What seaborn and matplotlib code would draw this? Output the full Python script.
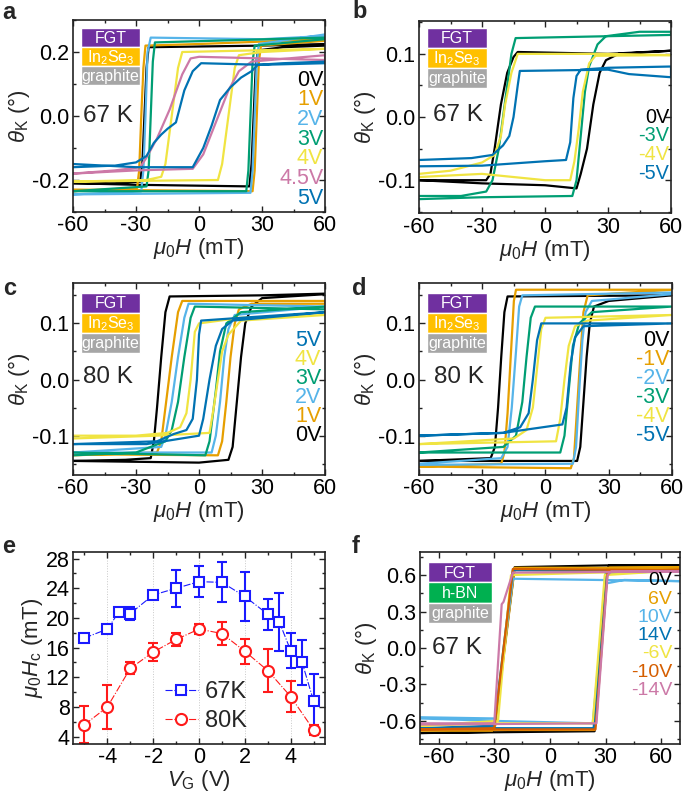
import matplotlib
matplotlib.use("Agg")
import matplotlib.pyplot as plt
import seaborn as sns
from matplotlib.patches import Rectangle
from matplotlib.ticker import MultipleLocator

# colours (Okabe-Ito style, as in the paper)
BLACK = "#000000"
ORANGE = "#E69F00"
SKY = "#56B4E9"
GREEN = "#009E73"
YELLOW = "#F0E442"
BLUE = "#0072B2"
VERMIL = "#D55E00"
PINK = "#CC79A7"

# ---- panel a: 67 K, In2Se3, positive gate -------------------------------
# each loop: lower branch (-60 -> 60) followed by upper branch (60 -> -60)
a_labels = ["0V", "1V", "2V", "3V", "4V", "4.5V", "5V"]
a_colors = [BLACK, ORANGE, SKY, GREEN, YELLOW, PINK, BLUE]
a_loops = [
    [(-60, -0.21), (-30, -0.215), (24, -0.22), (25, -0.15), (26, 0.0), (27, 0.15), (28, 0.205), (40, 0.215), (60, 0.22),
     (60, 0.225), (30, 0.22), (-24, 0.215), (-25, 0.15), (-26, 0.0), (-27, -0.15), (-28, -0.205), (-40, -0.21), (-60, -0.21)],
    [(-60, -0.23), (25.5, -0.235), (26.5, -0.17), (27.5, 0.0), (28.5, 0.17), (29.5, 0.22), (60, 0.235),
     (60, 0.24), (0, 0.225), (-25.5, 0.22), (-26.5, 0.15), (-27.5, 0.0), (-28.5, -0.17), (-29.5, -0.225), (-60, -0.235)],
    [(-60, -0.245), (24.5, -0.24), (25.5, -0.17), (26.5, 0.0), (27.5, 0.17), (28.5, 0.225), (60, 0.255),
     (60, 0.25), (30, 0.24), (-23, 0.245), (-24.5, 0.2), (-25.5, 0.0), (-26.5, -0.17), (-27.5, -0.235), (-60, -0.245)],
    [(-60, -0.235), (22.5, -0.235), (23.5, -0.17), (24.5, 0.0), (25.5, 0.17), (26.5, 0.22), (60, 0.24),
     (60, 0.245), (-21, 0.23), (-22, 0.17), (-23, 0.0), (-24, -0.17), (-25, -0.22), (-60, -0.235)],
    [(-60, -0.205), (9, -0.2), (11, -0.15), (14, 0.0), (17, 0.15), (19, 0.19), (30, 0.2), (60, 0.21),
     (60, 0.21), (-8, 0.2), (-10, 0.15), (-13, 0.0), (-16, -0.15), (-18, -0.19), (-25, -0.2), (-60, -0.205)],
    [(-60, -0.18), (-30, -0.17), (-3, -0.165), (2, -0.12), (8, -0.02), (14, 0.08), (19, 0.14), (25, 0.17), (60, 0.19),
     (60, 0.175), (30, 0.18), (0, 0.185), (-4, 0.18), (-8, 0.13), (-14, 0.02), (-20, -0.07), (-25, -0.13), (-28, -0.16),
     (-40, -0.17), (-60, -0.18)],
    [(-60, -0.15), (-30, -0.16), (-3, -0.16), (2, -0.1), (6, -0.03), (10, 0.05), (15, 0.09), (20, 0.12), (25, 0.14),
     (28, 0.16), (40, 0.165), (60, 0.17),
     (60, 0.165), (30, 0.16), (1, 0.165), (-3, 0.14), (-7, 0.08), (-11, -0.02), (-15, -0.04), (-18, -0.058),
     (-21.5, -0.084), (-25, -0.125), (-30, -0.145), (-40, -0.155), (-60, -0.16)],
]

# ---- panel b: 67 K, In2Se3, negative gate -------------------------------
b_labels = ["0V", "-3V", "-4V", "-5V"]
b_colors = [BLACK, GREEN, YELLOW, BLUE]
b_loops = [
    [(-60, -0.1), (-30, -0.105), (0, -0.108), (15, -0.113), (17, -0.09), (20, -0.05), (23, 0.02), (26, 0.07),
     (29, 0.09), (35, 0.1), (60, 0.105),
     (60, 0.105), (30, 0.1), (-13, 0.103), (-15, 0.095), (-18, 0.07), (-21, 0.02), (-24, -0.05), (-26, -0.09),
     (-28, -0.1), (-60, -0.1)],
    [(-60, -0.13), (-30, -0.127), (13, -0.125), (15, -0.1), (17, -0.03), (19, 0.04), (21, 0.08), (25, 0.115),
     (29, 0.128), (45, 0.135), (60, 0.135),
     (60, 0.13), (30, 0.128), (-14, 0.125), (-16, 0.1), (-18, 0.05), (-20, 0.0), (-22, -0.05), (-25, -0.1),
     (-28, -0.118), (-40, -0.125), (-60, -0.125)],
    [(-60, -0.095), (-30, -0.09), (0, -0.1), (12, -0.1), (14, -0.07), (16, -0.02), (18, 0.04), (21, 0.085),
     (24, 0.097), (60, 0.098),
     (60, 0.098), (30, 0.1), (-13, 0.1), (-16, 0.07), (-19, 0.02), (-21, -0.03), (-24, -0.06), (-30, -0.072),
     (-45, -0.085), (-60, -0.09)],
    [(-60, -0.078), (-30, -0.077), (0, -0.07), (10, -0.068), (12, -0.04), (13.5, 0.03), (15, 0.065), (17, 0.075),
     (30, 0.078), (60, 0.08),
     (60, 0.063), (40, 0.068), (30, 0.075), (-12, 0.073), (-13, 0.05), (-15, 0.0), (-17, -0.03), (-20, -0.045),
     (-25, -0.06), (-35, -0.065), (-60, -0.068)],
]

# ---- panel c: 80 K, positive gate ---------------------------------------
c_labels = ["5V", "4V", "3V", "2V", "1V", "0V"]
c_label_colors = [BLUE, YELLOW, GREEN, SKY, ORANGE, BLACK]
c_colors = [BLACK, ORANGE, SKY, GREEN, YELLOW, BLUE]
c_loops = [
    [(-60, -0.145), (0, -0.148), (14, -0.143), (16, -0.12), (18, -0.04), (20, 0.04), (22, 0.1), (25, 0.13),
     (30, 0.145), (60, 0.152),
     (60, 0.153), (30, 0.15), (-14, 0.148), (-16, 0.12), (-18, 0.04), (-20, -0.05), (-21.5, -0.11), (-23, -0.14),
     (-35, -0.143), (-60, -0.145)],
    [(-60, -0.133), (9, -0.135), (11, -0.11), (13, -0.04), (15, 0.04), (17, 0.1), (19, 0.125), (25, 0.135), (60, 0.135),
     (60, 0.14), (-8, 0.14), (-10, 0.12), (-13, 0.04), (-16, -0.05), (-18, -0.11), (-20, -0.13), (-60, -0.135)],
    [(-60, -0.13), (6, -0.13), (8, -0.1), (10, -0.04), (12, 0.04), (14, 0.09), (17, 0.115), (60, 0.13),
     (60, 0.13), (-5, 0.135), (-7, 0.11), (-10, 0.04), (-13, -0.04), (-16, -0.1), (-18, -0.12), (-60, -0.13)],
    [(-60, -0.13), (3, -0.135), (5, -0.11), (8, -0.02), (10, 0.05), (13, 0.1), (20, 0.12), (60, 0.13),
     (60, 0.125), (-2, 0.13), (-4, 0.11), (-7, 0.04), (-10, -0.04), (-13, -0.09), (-16, -0.11), (-30, -0.13),
     (-60, -0.135)],
    [(-60, -0.105), (-20, -0.1), (5, -0.095), (7, -0.05), (9, 0.0), (11, 0.05), (14, 0.08), (20, 0.105), (60, 0.115),
     (60, 0.115), (20, 0.11), (0, 0.1), (-2, 0.085), (-4, 0.0), (-6, -0.06), (-9, -0.085), (-15, -0.095),
     (-30, -0.1), (-60, -0.1)],
    [(-60, -0.115), (-25, -0.115), (0, -0.1), (2, -0.07), (5, 0.0), (8, 0.06), (11, 0.09), (16, 0.105), (60, 0.12),
     (60, 0.12), (20, 0.11), (1, 0.105), (0, 0.08), (-1, 0.0), (-3, -0.07), (-6, -0.09), (-12, -0.097),
     (-20, -0.11), (-60, -0.115)],
]

# ---- panel d: 80 K, negative gate ---------------------------------------
d_labels = ["0V", "-1V", "-2V", "-3V", "-4V", "-5V"]
d_colors = [BLACK, ORANGE, SKY, GREEN, YELLOW, BLUE]
d_loops = [
    [(-60, -0.145), (15, -0.145), (16.5, -0.12), (18, -0.04), (19.5, 0.04), (21, 0.1), (23, 0.13), (30, 0.14),
     (60, 0.15),
     (60, 0.15), (-18, 0.148), (-19.5, 0.12), (-21, 0.04), (-22.5, -0.05), (-24, -0.12), (-26, -0.14),
     (-60, -0.145)],
    [(-60, -0.155), (12, -0.158), (13.5, -0.14), (15, -0.05), (16.5, 0.04), (18, 0.12), (20, 0.15), (60, 0.16),
     (60, 0.16), (-14, 0.16), (-15, 0.14), (-16.5, 0.04), (-18, -0.06), (-19.5, -0.13), (-21, -0.15), (-60, -0.155)],
    [(-60, -0.152), (13, -0.15), (14.5, -0.12), (16, -0.02), (17.5, 0.07), (19, 0.12), (22, 0.14), (60, 0.152),
     (60, 0.155), (-11, 0.15), (-12.5, 0.13), (-14, 0.05), (-16, -0.05), (-18, -0.12), (-21, -0.14), (-60, -0.15)],
    [(-60, -0.13), (7, -0.13), (9, -0.1), (11, -0.02), (13, 0.06), (16, 0.1), (22, 0.12), (60, 0.13),
     (60, 0.13), (-5, 0.13), (-7, 0.11), (-9, 0.04), (-11, -0.04), (-14, -0.1), (-20, -0.12), (-60, -0.13)],
    [(-60, -0.115), (5, -0.11), (7, -0.07), (9, 0.0), (11, 0.06), (14, 0.095), (20, 0.105), (60, 0.115),
     (60, 0.115), (0, 0.11), (-2, 0.09), (-4, 0.02), (-6, -0.05), (-9, -0.09), (-15, -0.105), (-60, -0.115)],
    [(-60, -0.1), (-20, -0.095), (8, -0.08), (10, -0.05), (12, 0.03), (14, 0.075), (18, 0.095), (60, 0.1),
     (60, 0.1), (20, 0.1), (-2, 0.1), (-4, 0.07), (-6, 0.0), (-8, -0.06), (-12, -0.085), (-20, -0.095),
     (-60, -0.1)],
]

# ---- panel e: coercive field vs gate voltage ----------------------------
vg_67 = [-5, -4, -3.5, -3, -2, -1, 0, 1, 2, 3, 3.5, 4, 4.5, 5]
hc_67 = [17.3, 18.5, 20.8, 20.6, 23.1, 24.0, 24.9, 24.8, 22.9, 20.5, 19.5, 15.6, 14.0, 8.8]
err_67 = [0.4, 0.5, 0.4, 0.9, 0.6, 2.5, 2.1, 2.7, 3.3, 2.1, 3.9, 2.4, 3.0, 3.6]
vg_80 = [-5, -4, -3, -2, -1, 0, 1, 2, 3, 4, 5]
hc_80 = [5.6, 8.0, 13.2, 15.4, 17.1, 18.5, 17.9, 15.5, 12.9, 9.4, 4.9]
err_80 = [2.5, 3.0, 0.8, 1.2, 0.9, 0.7, 1.5, 1.7, 2.85, 2.1, 0.7]

# ---- panel f: 67 K, h-BN reference device -------------------------------
f_labels = ["0V", "6V", "10V", "14V", "-6V", "-10V", "-14V"]
f_colors = [BLACK, ORANGE, SKY, BLUE, YELLOW, VERMIL, PINK]
f_loops = [
    [(-70, -0.7), (24, -0.685), (31, 0.65), (32, 0.68), (70, 0.68),
     (70, 0.68), (32, 0.68), (-19, 0.665), (-30, -0.66), (-31, -0.69), (-70, -0.7)],
    [(-70, -0.675), (24, -0.675), (30.5, 0.64), (32, 0.66), (70, 0.665),
     (70, 0.66), (-19, 0.66), (-29.5, -0.64), (-31, -0.68), (-70, -0.68)],
    [(-70, -0.58), (-30, -0.6), (23, -0.62), (30, 0.53), (40, 0.56), (70, 0.55),
     (70, 0.55), (-20, 0.57), (-29.5, -0.58), (-70, -0.57)],
    [(-70, -0.66), (23.5, -0.66), (30, 0.62), (70, 0.63),
     (70, 0.63), (-20, 0.64), (-30, -0.64), (-70, -0.66)],
    [(-70, -0.64), (-28, -0.62), (23, -0.62), (29.5, 0.6), (70, 0.64),
     (70, 0.64), (-21, 0.6), (-28, -0.6), (-70, -0.64)],
    [(-70, -0.67), (24.5, -0.67), (31, 0.63), (70, 0.645),
     (70, 0.64), (-20, 0.65), (-30, -0.66), (-70, -0.67)],
    [(-70, -0.63), (25, -0.62), (31, 0.6), (33, 0.63), (70, 0.63),
     (70, 0.63), (-20, 0.62), (-25, 0.38), (-26, 0.36), (-30, -0.62), (-70, -0.62)],
]

stack_in2se3 = [("FGT", "#7030A0"), ("In$_2$Se$_3$", "#FFC000"), ("graphite", "#A6A6A6")]
stack_hbn = [("FGT", "#7030A0"), ("h-BN", "#00B050"), ("graphite", "#A6A6A6")]

# ---- style ---------------------------------------------------------------
sns.set_theme(style="ticks")
plt.rcParams["font.family"] = ["Liberation Sans", "DejaVu Sans"]
plt.rcParams.update({
    "mathtext.fontset": "custom",
    "mathtext.rm": "Liberation Sans",
    "mathtext.it": "Liberation Sans:italic",
    "axes.unicode_minus": False,
    "xtick.direction": "in",
    "ytick.direction": "in",
    "xtick.top": True,
    "ytick.right": True,
    "xtick.major.size": 4,
    "ytick.major.size": 4,
    "xtick.minor.size": 2.5,
    "ytick.minor.size": 2.5,
    "xtick.major.width": 1.0,
    "ytick.major.width": 1.0,
    "xtick.minor.width": 1.0,
    "ytick.minor.width": 1.0,
    "xtick.major.pad": 2.5,
    "ytick.major.pad": 2.5,
    "axes.linewidth": 1.2,
    "axes.edgecolor": "#222222",
    "xtick.color": "#222222",
    "ytick.color": "#222222",
    "xtick.labelcolor": "black",
    "ytick.labelcolor": "black",
    "font.size": 15,
})

TICK_FS = 15.5
LABEL_FS = 16
VLABEL_FS = 15.5
TEMP_FS = 17.5
LOOP_LW = 1.6

fig = plt.figure(figsize=(6.85, 7.94), dpi=100)
ax_a = fig.add_axes([0.1066, 0.733, 0.3679, 0.2418])
ax_b = fig.add_axes([0.6117, 0.7317, 0.3679, 0.2418])
ax_c = fig.add_axes([0.1066, 0.4018, 0.3679, 0.2418])
ax_d = fig.add_axes([0.6117, 0.4018, 0.3693, 0.2418])
ax_e = fig.add_axes([0.1066, 0.063, 0.3679, 0.2418])
ax_f = fig.add_axes([0.6131, 0.063, 0.3796, 0.2418])


def draw_loops(ax, loops, colors):
    for pts, c in zip(loops, colors):
        h = [p[0] for p in pts]
        t = [p[1] for p in pts]
        sns.lineplot(x=h, y=t, sort=False, estimator=None, color=c, lw=LOOP_LW, ax=ax)


def draw_stack(ax, layers, x0, y_top, w, h):
    for i, (name, col) in enumerate(layers):
        y0 = y_top - (i + 1) * h
        ax.add_patch(Rectangle((x0, y0), w, h, transform=ax.transAxes, facecolor=col,
                               edgecolor="white", lw=1.0, clip_on=False, zorder=5))
        ax.text(x0 + w / 2, y0 + h / 2 - 0.005, name, transform=ax.transAxes, color="white",
                ha="center", va="center", fontsize=11.5, zorder=6)


def draw_vlabels(ax, labels, colors, x, y0, step, size=VLABEL_FS):
    for i, (lab, c) in enumerate(zip(labels, colors)):
        ax.text(x, y0 - i * step, lab, transform=ax.transAxes, color=c, ha="right",
                va="center", fontsize=size, zorder=6)


def style_loop_axes(ax, xlim, ylim, xmajor, ymajor, yfmt):
    ax.set_xlim(*xlim)
    ax.set_ylim(*ylim)
    ax.xaxis.set_major_locator(MultipleLocator(xmajor))
    ax.xaxis.set_minor_locator(MultipleLocator(xmajor / 2))
    ax.yaxis.set_major_locator(MultipleLocator(ymajor))
    ax.yaxis.set_minor_locator(MultipleLocator(ymajor / 2))
    ax.yaxis.set_major_formatter(yfmt)
    ax.tick_params(labelsize=TICK_FS)
    ax.set_xlabel(r"$\mu_\mathrm{0}H$ (mT)", fontsize=LABEL_FS, labelpad=0)
    ax.set_ylabel(r"$\theta_\mathrm{K}$ ($\degree$)", fontsize=LABEL_FS, labelpad=0)


# a
draw_loops(ax_a, a_loops, a_colors)
style_loop_axes(ax_a, (-60, 60), (-0.3, 0.3), 30, 0.2, "{x:.1f}")
draw_stack(ax_a, stack_in2se3, 0.032, 0.958, 0.234, 0.099)
ax_a.text(0.04, 0.5, "67 K", transform=ax_a.transAxes, fontsize=TEMP_FS, va="center")
draw_vlabels(ax_a, a_labels, a_colors, 0.993, 0.6875, 0.1026)

# b
draw_loops(ax_b, b_loops, b_colors)
style_loop_axes(ax_b, (-60, 60), (-0.152, 0.152), 30, 0.1, "{x:.1f}")
draw_stack(ax_b, stack_in2se3, 0.032, 0.964, 0.238, 0.104)
ax_b.text(0.056, 0.508, "67 K", transform=ax_b.transAxes, fontsize=TEMP_FS, va="center")
draw_vlabels(ax_b, b_labels, b_colors, 0.993, 0.499, 0.097, size=14.3)

# c
draw_loops(ax_c, c_loops, c_colors)
style_loop_axes(ax_c, (-60, 60), (-0.17, 0.172), 30, 0.1, "{x:.1f}")
draw_stack(ax_c, stack_in2se3, 0.032, 0.948, 0.234, 0.104)
ax_c.text(0.04, 0.51, "80 K", transform=ax_c.transAxes, fontsize=TEMP_FS, va="center")
draw_vlabels(ax_c, c_labels, c_label_colors, 0.985, 0.703, 0.1)

# d
draw_loops(ax_d, d_loops, d_colors)
style_loop_axes(ax_d, (-60, 60), (-0.17, 0.172), 30, 0.1, "{x:.1f}")
draw_stack(ax_d, stack_in2se3, 0.032, 0.948, 0.238, 0.104)
ax_d.text(0.06, 0.51, "80 K", transform=ax_d.transAxes, fontsize=TEMP_FS, va="center")
draw_vlabels(ax_d, d_labels, d_colors, 0.992, 0.703, 0.1)

# e
for x in [-4, -2, 0, 2, 4]:
    ax_e.axvline(x, color="#c8c8c8", ls=":", lw=0.7, zorder=0)
ax_e.errorbar(vg_67, hc_67, yerr=err_67, fmt="none", ecolor="#1a1aff", elinewidth=1.5, capsize=3.5, capthick=1.5)
ax_e.errorbar(vg_80, hc_80, yerr=err_80, fmt="none", ecolor="#ff1a1a", elinewidth=1.5, capsize=3.5, capthick=1.5)
sns.lineplot(x=vg_67, y=hc_67, sort=False, estimator=None, color="#1a1aff", ls="-.", lw=0.8, marker="s",
             markersize=7.5, mfc="white", mec="#1a1aff", mew=1.5, label="67K", ax=ax_e)
sns.lineplot(x=vg_80, y=hc_80, sort=False, estimator=None, color="#ff1a1a", ls="-.", lw=0.8, marker="o",
             markersize=8, mfc="white", mec="#ff1a1a", mew=1.5, label="80K", ax=ax_e)
ax_e.set_xlim(-5.5, 5.5)
ax_e.set_ylim(3, 28.9)
ax_e.xaxis.set_major_locator(MultipleLocator(2))
ax_e.xaxis.set_minor_locator(MultipleLocator(1))
ax_e.yaxis.set_major_locator(MultipleLocator(4))
ax_e.yaxis.set_minor_locator(MultipleLocator(2))
ax_e.tick_params(labelsize=TICK_FS)
ax_e.set_xlabel(r"$V_\mathrm{G}$ (V)", fontsize=LABEL_FS, labelpad=0)
ax_e.set_ylabel(r"$\mu_\mathrm{0}H_\mathrm{c}$ (mT)", fontsize=LABEL_FS, labelpad=0)
ax_e.legend(loc="lower left", bbox_to_anchor=(0.28, -0.05), frameon=False, fontsize=17,
            handlelength=1.4, handletextpad=0.3, labelspacing=0.3)

# f
draw_loops(ax_f, f_loops, f_colors)
style_loop_axes(ax_f, (-70, 70), (-0.79, 0.79), 30, 0.3, "{x:.1f}")
ax_f.xaxis.set_minor_locator(MultipleLocator(15))
draw_stack(ax_f, stack_hbn, 0.031, 0.948, 0.246, 0.106)
ax_f.text(0.046, 0.5, "67 K", transform=ax_f.transAxes, fontsize=TEMP_FS, va="center")
draw_vlabels(ax_f, f_labels, f_colors, 0.97, 0.849, 0.095, size=14)

# panel letters
for lx, ly, letter in [(0.003, 0.976, "a"), (0.514, 0.977, "b"), (0.005, 0.6285, "c"),
                       (0.514, 0.6285, "d"), (0.003, 0.3035, "e"), (0.514, 0.3035, "f")]:
    fig.text(lx, ly, letter, fontsize=17, fontweight="bold", va="baseline")

fig.savefig("out.png", dpi=100)
